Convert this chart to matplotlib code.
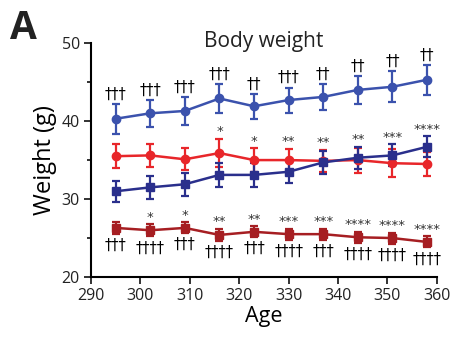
import numpy as np
import matplotlib.pyplot as plt

plt.rcParams['font.family'] = ['Open Sans', 'DejaVu Sans']

# === данные ===
age = [295, 302, 309, 316, 323, 330, 337, 344, 351, 358]

blue_c = [40.3, 41.0, 41.3, 42.9, 41.9, 42.7, 43.1, 44.0, 44.4, 45.3]
blue_c_err = [1.9, 1.7, 1.8, 1.8, 1.6, 1.6, 1.7, 1.8, 2.0, 1.9]

red_c = [35.5, 35.6, 35.1, 35.9, 35.0, 35.0, 34.9, 35.0, 34.6, 34.5]
red_c_err = [1.5, 1.5, 1.4, 1.8, 1.5, 1.4, 1.4, 1.6, 1.8, 1.6]

navy_s = [31.0, 31.5, 31.9, 33.1, 33.1, 33.5, 34.7, 35.3, 35.6, 36.7]
navy_s_err = [1.35, 1.5, 1.5, 1.5, 1.5, 1.4, 1.5, 1.4, 1.4, 1.35]

dred_s = [26.3, 26.0, 26.3, 25.4, 25.8, 25.5, 25.5, 25.1, 25.0, 24.5]
dred_s_err = [0.8, 0.8, 0.7, 0.8, 0.7, 0.7, 0.7, 0.7, 0.7, 0.7]

blue_marks = ['†††', '†††', '†††', '†††', '††', '†††', '††', '††', '††', '††']
red_marks = ['', '', '', '*', '*', '**', '**', '**', '***', '****']
dred_top = ['', '*', '*', '**', '**', '***', '***', '****', '****', '****']
dred_bot = ['†††', '††††', '†††', '††††', '†††', '††††', '†††', '††††', '††††', '††††']

fig = plt.figure(figsize=(4.57, 3.45), dpi=100)
ax = fig.add_axes([0.199, 0.197, 0.757, 0.678])

series = [
    (blue_c, blue_c_err, '#3b52ad', 'o'),
    (red_c, red_c_err, '#e8262a', 'o'),
    (navy_s, navy_s_err, '#2a2f8c', 's'),
    (dred_s, dred_s_err, '#a61e22', 's'),
]
for y, e, c, m in series:
    ax.errorbar(age, y, yerr=e, color=c, marker=m, markersize=6, lw=1.8,
                elinewidth=1.6, capsize=3.2, capthick=1.6)

dag = dict(ha='center', fontsize=10.5, family='DejaVu Sans', color='black')
star = dict(ha='center', fontsize=9.5, family='DejaVu Sans', color='#333333')

# значимость
for i, a in enumerate(age):
    ax.text(a, blue_c[i] + blue_c_err[i] + 0.3, blue_marks[i], va='bottom', **dag)
    if red_marks[i]:
        top = max(red_c[i] + red_c_err[i], navy_s[i] + navy_s_err[i])
        ax.text(a, top + 0.1, red_marks[i], va='bottom', **star)
    if dred_top[i]:
        ax.text(a, dred_s[i] + dred_s_err[i] + 0.05, dred_top[i], va='bottom', **star)
    ax.text(a, dred_s[i] - dred_s_err[i] - 0.5, dred_bot[i], va='top', **dag)

ax.set_xlim(290, 360)
ax.set_ylim(20, 50)
ax.set_xticks(range(290, 361, 10))
ax.set_yticks([20, 30, 40, 50])
ax.set_yticks([25, 35, 45], minor=True)
ax.spines['top'].set_visible(False)
ax.spines['right'].set_visible(False)
ax.spines['left'].set_linewidth(1.5)
ax.spines['bottom'].set_linewidth(1.5)
ax.tick_params(which='both', direction='out', width=1.3, labelsize=11.5, colors='#222222')
ax.tick_params(which='major', length=5, pad=3)
ax.tick_params(which='minor', length=3)
ax.set_xlabel('Age', fontsize=15.5, labelpad=1)
ax.set_ylabel('Weight (g)', fontsize=17, labelpad=3)
ax.text(0.5, 0.985, 'Body weight', transform=ax.transAxes, ha='center',
        va='baseline', fontsize=15, color='#222222')

fig.text(0.022, 0.975, 'A', fontsize=28, fontweight='bold', va='top', ha='left', color='#222222')

fig.savefig('out.png', dpi=100)
